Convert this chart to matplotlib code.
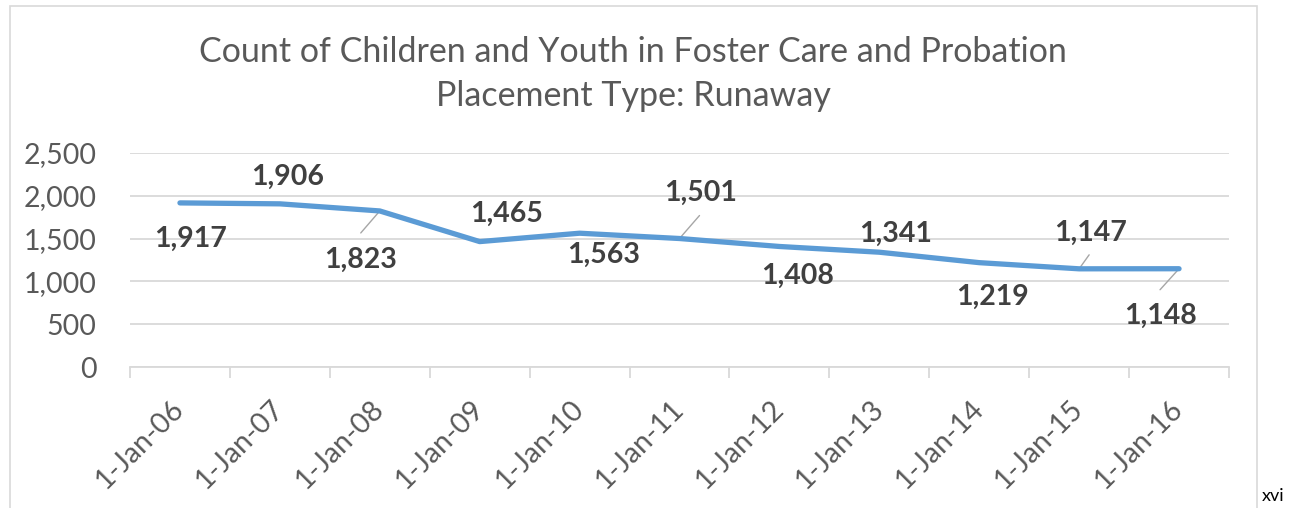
import matplotlib
matplotlib.use("Agg")
import matplotlib.pyplot as plt
from matplotlib.patches import Rectangle

# ---- data ----
categories = ["1-Jan-06", "1-Jan-07", "1-Jan-08", "1-Jan-09", "1-Jan-10", "1-Jan-11",
              "1-Jan-12", "1-Jan-13", "1-Jan-14", "1-Jan-15", "1-Jan-16"]
values = [1917, 1906, 1823, 1465, 1563, 1501, 1408, 1341, 1219, 1147, 1148]
yticks = [0, 500, 1000, 1500, 2000, 2500]
title = "Count of Children and Youth in Foster Care and Probation\nPlacement Type: Runaway"

# ---- label placement (pixel offsets from each point, y up) ----
label_offsets = [(11, -36), (8, 27), (-19, -49), (27, 28), (24, -22), (21, 46),
                 (18, -29), (16, 18), (13, -34), (11, 36), (-19, -47)]
leader_offsets = {2: (-19, -22), 5: (20, 23), 9: (10, 14), 10: (-19, -21)}

W, H = 1289, 508
fig = plt.figure(figsize=(W / 100, H / 100), dpi=100)
plt.rcParams['font.family'] = ['Lato', 'DejaVu Sans']

# chart border
fig.patches.append(Rectangle((10 / W, -0.02), (1257 - 10) / W, (H - 6) / H + 0.02,
                             transform=fig.transFigure, fill=False,
                             edgecolor="#D9D9D9", lw=1.2))

ax = fig.add_axes([130 / W, (H - 367) / H, (1229 - 130) / W, (367 - 153) / H])
x = list(range(len(values)))
ax.plot(x, values, color="#5B9BD5", lw=3.8, solid_capstyle="round", zorder=3)

ax.set_xlim(-0.5, len(values) - 0.5)
ax.set_ylim(0, 2500)
ax.set_yticks(yticks)
ax.set_yticklabels([f"{v:,}" for v in yticks])
ax.grid(axis="y", color="#D9D9D9", lw=1.3)
ax.set_axisbelow(True)
for s in ["top", "right", "left"]:
    ax.spines[s].set_visible(False)
ax.spines["bottom"].set_color("#D9D9D9")
ax.spines["bottom"].set_linewidth(1.3)

ax.tick_params(axis="y", length=0, pad=24, labelsize=20.5, labelcolor="#595959")
ax.set_xticks([i - 0.5 for i in range(len(values) + 1)])
ax.set_xticklabels([])
ax.tick_params(axis="x", which="major", length=8, width=1.3, color="#D9D9D9")
ax.set_xticks(x, minor=True)
ax.set_xticklabels(categories, minor=True, rotation=45, ha="right", va="center",
                   rotation_mode="anchor", fontsize=20.5, color="#595959")
ax.tick_params(axis="x", which="minor", length=0, pad=27)

for i, v in enumerate(values):
    dx, dy = label_offsets[i]
    ax.annotate(f"{v:,}", xy=(i, v), xytext=(dx, dy), textcoords="offset pixels",
                ha="center", va="center", fontsize=20.5, fontweight="bold",
                color="#404040", zorder=4)
    if i in leader_offsets:
        lx, ly = leader_offsets[i]
        ax.annotate("", xy=(i, v), xytext=(lx, ly), textcoords="offset pixels",
                    arrowprops=dict(arrowstyle="-", color="#A6A6A6", lw=1.0,
                                    shrinkA=0, shrinkB=0), zorder=2)

fig.text(633 / W, 1 - 74 / H, title, ha="center", va="center", fontsize=24.5,
         color="#595959", linespacing=1.45)
fig.text(1262 / W, 1 - 496 / H, "xvi", ha="left", va="center", fontsize=13, color="black")

fig.savefig("out.png", dpi=100)
